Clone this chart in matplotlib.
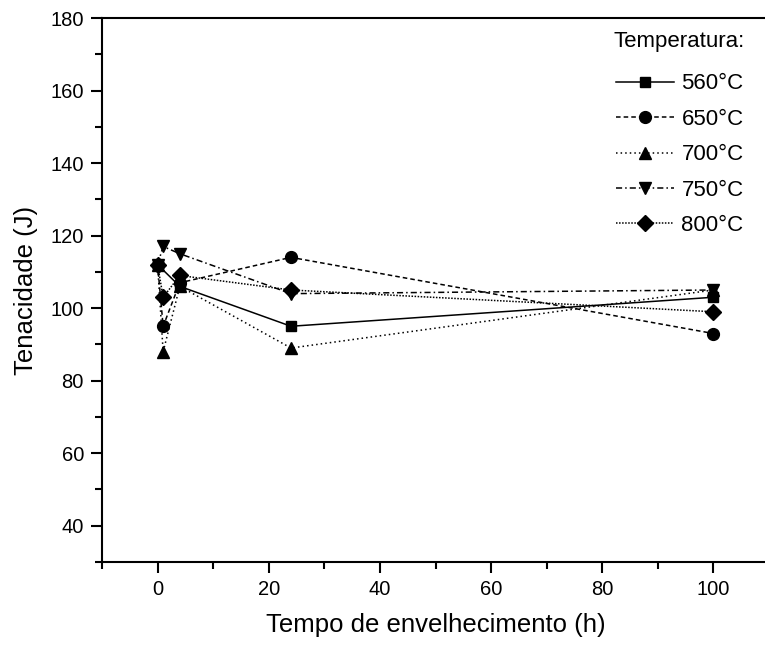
import matplotlib
matplotlib.use("Agg")
import matplotlib.pyplot as plt
from matplotlib.ticker import MultipleLocator

plt.rcParams['font.family'] = ['Liberation Sans', 'DejaVu Sans']

# Data
t_560 = [0, 4, 24, 100]
v_560 = [112, 106, 95, 103]
t_650 = [0, 1, 4, 24, 100]
v_650 = [112, 95, 107, 114, 93]
t_700 = [0, 1, 4, 24, 100]
v_700 = [112, 88, 106, 89, 105]
t_750 = [0, 1, 4, 24, 100]
v_750 = [112, 117, 115, 104, 105]
t_800 = [0, 1, 4, 24, 100]
v_800 = [112, 103, 109, 105, 99]
labels = ['560°C', '650°C', '700°C', '750°C', '800°C']
legend_title = 'Temperatura:'

fig = plt.figure(figsize=(7.65, 6.47), dpi=100)
ax = fig.add_axes([102/765, 85/647, (769-102)/765, (562-18)/647])

series = [
    (t_560, v_560, 's', '-', 7.5),
    (t_650, v_650, 'o', (0, (3, 2)), 8.5),
    (t_700, v_700, '^', (0, (1, 2)), 9),
    (t_750, v_750, 'v', (0, (4, 2, 1, 2)), 9),
    (t_800, v_800, 'D', (0, (1, 1)), 8.5),
]
for (t, v, m, ls, ms), lab in zip(series, labels):
    ax.plot(t, v, marker=m, linestyle=ls, color='black', lw=1.1,
            markersize=ms, label=lab)

ax.set_xlim(-10, 110)
ax.set_ylim(30, 180)
ax.xaxis.set_major_locator(MultipleLocator(20))
ax.xaxis.set_minor_locator(MultipleLocator(10))
ax.yaxis.set_major_locator(MultipleLocator(20))
ax.yaxis.set_minor_locator(MultipleLocator(10))
ax.set_yticks([40, 60, 80, 100, 120, 140, 160, 180])

ax.tick_params(which='major', direction='out', length=8, width=1.5,
               labelsize=14.5, pad=5, colors='black')
ax.tick_params(which='minor', direction='out', length=5, width=1.5)
ax.tick_params(top=False, right=False, which='both')
for s in ['left', 'bottom', 'top']:
    ax.spines[s].set_linewidth(1.5)
ax.spines['right'].set_visible(False)

ax.set_xlabel('Tempo de envelhecimento (h)', fontsize=18.5, labelpad=10)
ax.set_ylabel('Tenacidade (J)', fontsize=18.5, labelpad=9)

leg = ax.legend(loc='upper left',
                bbox_to_anchor=((607-102)/667, (562-64.5)/544), frameon=False,
                fontsize=16, handlelength=2.6,
                handletextpad=0.35, labelspacing=0.65,
                borderaxespad=0)
fig.text(613/765, 1-41/647, legend_title, fontsize=16, ha='left', va='center')

fig.savefig('out.png', dpi=100)
